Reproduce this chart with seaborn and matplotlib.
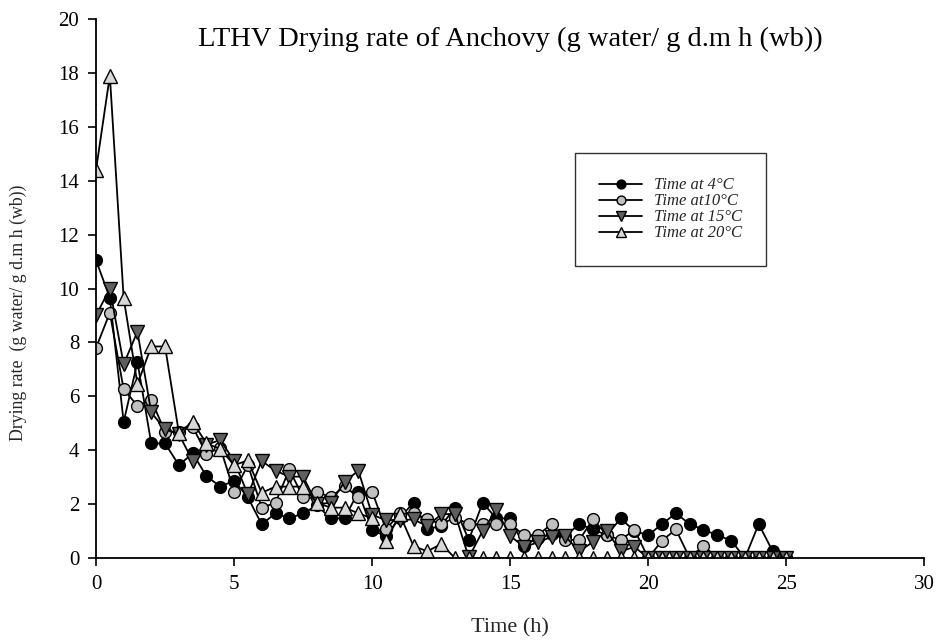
import numpy as np
import pandas as pd
import matplotlib
matplotlib.use("Agg")
import matplotlib.pyplot as plt
import seaborn as sns

# ---- data ----
time_h = [i * 0.5 for i in range(51)]  # 0, 0.5, ..., 25 h

rate_4C = [11.05, 9.65, 5.05, 7.27, 4.25, 4.25, 3.45, 3.88, 3.04, 2.65,
           2.87, 2.25, 1.25, 1.66, 1.47, 1.66, 1.95, 1.47, 1.47, 2.46,
           1.04, 0.80, 1.50, 2.05, 1.06, 1.20, 1.87, 0.67, 2.05, 1.47,
           1.47, 0.45, 0.75, 0.90, 0.82, 1.26, 1.06, 0.85, 1.47, 1.00,
           0.85, 1.26, 1.66, 1.26, 1.05, 0.85, 0.65, 0.00, 1.26, 0.26,
           0.00]

rate_10C = [7.80, 9.10, 6.26, 5.65, 5.86, 4.69, 4.69, 4.87, 3.86, 4.10,
            2.46, 3.45, 1.87, 2.05, 3.29, 2.25, 2.46, 2.25, 2.67, 2.25,
            2.46, 1.06, 1.66, 1.66, 1.44, 1.26, 1.50, 1.26, 1.26, 1.26,
            1.26, 0.85, 0.85, 1.26, 0.67, 0.67, 1.44, 0.85, 0.67, 1.05,
            0.00, 0.65, 1.06, 0.00, 0.46, 0.00, 0.00, 0.00, 0.00, 0.00,
            0.00]

rate_15C = [9.00, 10.00, 7.19, 8.40, 5.40, 4.77, 4.60, 3.60, 4.20, 4.38,
            3.60, 2.36, 3.60, 3.24, 3.02, 3.02, 2.00, 2.05, 2.83, 3.24,
            1.60, 1.41, 1.41, 1.43, 1.18, 1.62, 1.64, 0.02, 1.00, 1.79,
            0.82, 0.41, 0.58, 0.79, 0.80, 0.25, 0.60, 1.00, 0.25, 0.41,
            0.00, 0.00, 0.00, 0.00, 0.00, 0.00, 0.00, 0.00, 0.00, 0.00,
            0.00]

rate_20C = [14.40, 17.90, 9.65, 6.45, 7.85, 7.85, 4.65, 5.05, 4.25, 4.05,
            3.45, 3.62, 2.42, 2.65, 2.65, 2.65, 2.05, 1.87, 1.87, 1.66,
            1.47, 0.62, 1.62, 0.44, 0.25, 0.52, 0.00, 0.00, 0.00, 0.00,
            0.00, 0.00, 0.00, 0.00, 0.00, 0.00, 0.00, 0.00, 0.00, 0.00,
            0.00, 0.00, 0.00, 0.00, 0.00, 0.00, 0.00, 0.00, 0.00, 0.00,
            0.00]

series_labels = ["Time at 4\u00b0C", "Time at10\u00b0C", "Time at 15\u00b0C", "Time at 20\u00b0C"]
x_ticks = [0, 5, 10, 15, 20, 25, 30]
y_ticks = [0, 2, 4, 6, 8, 10, 12, 14, 16, 18, 20]

title_text = "LTHV Drying rate of Anchovy (g water/ g d.m h (wb))"
x_label = "Time (h)"
y_label = "Drying rate  (g water/ g d.m h (wb))"

# ---- style ----
sns.set_theme(style="ticks")
plt.rcParams["font.family"] = ["Liberation Serif", "DejaVu Serif"]

fig = plt.figure(figsize=(9.36, 6.44), dpi=100)
ax = fig.add_axes([0.1026, 0.1335, 0.885, 0.837])

styles = [
    dict(marker="o", markerfacecolor="black", markersize=8.5),
    dict(marker="o", markerfacecolor="#c0c0c0", markersize=8.5),
    dict(marker="v", markerfacecolor="#5f5f5f", markersize=9.5),
    dict(marker="^", markerfacecolor="#d8d8d8", markersize=9.5),
]
all_rates = [rate_4C, rate_10C, rate_15C, rate_20C]

for vals, lab, st in zip(all_rates, series_labels, styles):
    df = pd.DataFrame({"t": time_h, "v": vals})
    sns.lineplot(data=df, x="t", y="v", ax=ax, color="black", linewidth=1.3,
                 markeredgecolor="black", markeredgewidth=1.0, label=lab,
                 sort=False, estimator=None, **st)

ax.set_xlim(0, 30)
ax.set_ylim(0, 20)
ax.set_xticks(x_ticks)
ax.set_yticks(y_ticks)
ax.tick_params(axis="both", direction="out", length=6, width=1.2,
               labelsize=15, colors="black", pad=6)
for s in ["top", "right"]:
    ax.spines[s].set_visible(False)
for s in ["left", "bottom"]:
    ax.spines[s].set_linewidth(1.3)
    ax.spines[s].set_color("black")
ax.set_xlabel("")
ax.set_ylabel("")

ax.text(0.5, 0.962, title_text, transform=ax.transAxes, ha="center", va="center",
        fontsize=20.5, color="black")
fig.text(510 / 936, 1 - 628 / 644, x_label, ha="center", va="center", fontsize=16)
fig.text(18 / 936, 1 - 313 / 644, y_label, ha="center", va="center", rotation=90,
         fontsize=12.8)

leg = ax.legend(loc="upper left", bbox_to_anchor=(0.578, 0.751), borderaxespad=0,
                frameon=True, fancybox=False, edgecolor="black", handlelength=2.6,
                handletextpad=0.7, labelspacing=0.0, borderpad=1.45,
                markerscale=0.75, prop={"style": "italic", "size": 12})
leg.get_frame().set_linewidth(1.0)

fig.savefig("out.png", dpi=100)
